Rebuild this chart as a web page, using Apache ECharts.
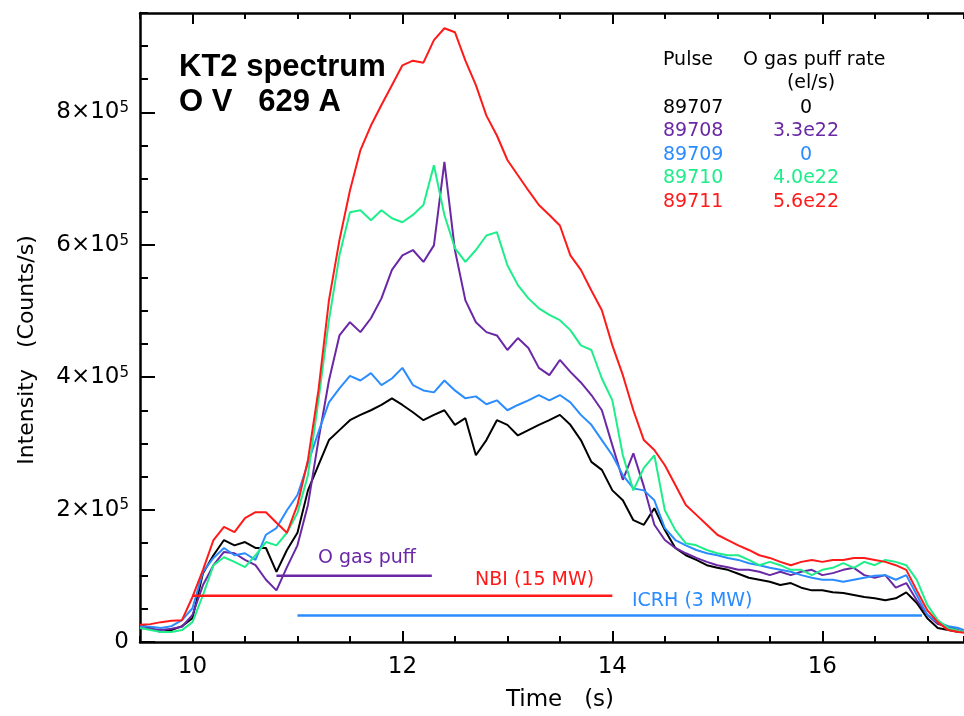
<!DOCTYPE html>
<html><head><meta charset="utf-8">
<script src="https://cdn.jsdelivr.net/npm/echarts@6/dist/echarts.min.js"></script>
<style>html,body{margin:0;padding:0;background:#fff}#c{width:964px;height:716px}</style>
</head><body><div id="c"></div>
<script>
// Time (s)
const time = [9.5,9.6,9.7,9.8,9.9,10.0,10.1,10.2,10.3,10.4,10.5,10.6,10.7,10.8,10.9,
  11.0,11.1,11.2,11.3,11.4,11.5,11.6,11.7,11.8,11.9,12.0,12.1,12.2,12.3,12.4,12.5,12.6,12.7,12.8,12.9,
  13.0,13.1,13.2,13.3,13.4,13.5,13.6,13.7,13.8,13.9,14.0,14.1,14.2,14.3,14.4,14.5,14.6,14.7,14.8,14.9,
  15.0,15.1,15.2,15.3,15.4,15.5,15.6,15.7,15.8,15.9,16.0,16.1,16.2,16.3,16.4,16.5,16.6,16.7,16.8,16.9,
  17.0,17.1,17.2,17.3,17.35];
// Intensity in units of 1e5 counts/s
const p89707 = [0.26,0.21,0.15,0.18,0.24,0.36,1.04,1.31,1.54,1.46,1.51,1.42,1.42,1.06,1.39,
  1.65,2.29,2.67,3.05,3.20,3.35,3.43,3.50,3.58,3.68,3.58,3.47,3.35,3.43,3.50,3.28,3.38,2.82,3.05,3.35,
  3.28,3.12,3.20,3.28,3.35,3.43,3.28,3.05,2.72,2.60,2.29,2.14,1.84,1.77,2.02,1.69,1.42,1.31,1.24,1.16,
  1.12,1.09,1.03,0.97,0.94,0.91,0.86,0.89,0.82,0.78,0.78,0.75,0.74,0.71,0.68,0.66,0.63,0.66,0.75,0.59,
  0.36,0.21,0.18,0.15,0.15];
const p89708 = [0.21,0.20,0.18,0.20,0.23,0.41,0.86,1.16,1.36,1.34,1.24,1.16,0.94,0.78,1.13,
  1.46,2.07,3.05,3.95,4.63,4.83,4.68,4.89,5.19,5.62,5.84,5.92,5.74,5.99,7.25,5.92,5.16,4.83,4.68,4.63,
  4.41,4.59,4.44,4.14,4.03,4.26,4.08,3.92,3.73,3.50,2.97,2.45,2.85,2.35,1.77,1.54,1.42,1.34,1.27,1.21,
  1.16,1.13,1.09,1.09,1.06,1.01,1.06,1.01,1.06,1.09,1.01,1.04,1.09,1.12,1.01,0.97,1.01,0.82,0.89,0.63,
  0.41,0.27,0.23,0.18,0.15];
const p89709 = [0.24,0.23,0.21,0.24,0.33,0.51,1.06,1.27,1.42,1.31,1.34,1.24,1.62,1.72,1.99,
  2.22,2.70,3.17,3.62,3.83,4.02,3.95,4.06,3.88,3.98,4.14,3.88,3.80,3.77,3.95,3.80,3.68,3.71,3.59,3.65,
  3.50,3.58,3.65,3.73,3.65,3.73,3.62,3.43,3.28,3.05,2.82,2.52,2.32,2.29,2.14,1.72,1.54,1.46,1.39,1.34,
  1.31,1.27,1.24,1.19,1.16,1.12,1.09,1.06,1.01,0.97,0.94,0.94,0.91,0.94,0.97,1.00,1.01,0.94,1.01,0.71,
  0.41,0.30,0.24,0.21,0.18];
const p89710 = [0.21,0.18,0.15,0.15,0.18,0.30,0.71,1.16,1.28,1.21,1.13,1.31,1.51,1.46,1.65,
  1.95,2.52,3.65,4.86,5.84,6.49,6.52,6.37,6.52,6.40,6.34,6.45,6.60,7.20,6.45,5.95,5.74,5.92,6.14,6.19,
  5.69,5.39,5.19,5.04,4.94,4.86,4.71,4.48,4.41,3.98,3.65,2.82,2.29,2.63,2.82,1.99,1.69,1.49,1.46,1.39,
  1.34,1.31,1.31,1.24,1.16,1.21,1.16,1.09,1.09,1.01,1.09,1.12,1.19,1.12,1.21,1.16,1.24,1.21,1.16,0.94,
  0.56,0.33,0.21,0.17,0.15];
const p89711 = [0.26,0.27,0.30,0.32,0.33,0.68,1.09,1.54,1.74,1.66,1.87,1.96,1.96,1.80,1.65,
  2.07,2.75,3.80,5.16,6.07,6.82,7.43,7.80,8.11,8.41,8.71,8.78,8.75,9.09,9.27,9.21,8.78,8.41,7.95,7.65,
  7.28,7.05,6.82,6.60,6.45,6.29,5.84,5.62,5.31,5.01,4.48,4.03,3.50,3.05,2.90,2.67,2.37,2.07,1.92,1.77,
  1.62,1.54,1.46,1.39,1.31,1.27,1.21,1.16,1.21,1.24,1.21,1.24,1.24,1.27,1.27,1.24,1.21,1.16,1.09,0.78,
  0.48,0.30,0.18,0.15,0.14];
const UNIT = 1e5;

const pulses = ['89707','89708','89709','89710','89711'];
const puffRates = ['0','3.3e22','0','4.0e22','5.6e22'];
const seriesValues = [p89707, p89708, p89709, p89710, p89711];

// Heating / puff timing bars: [start, end] in s, level in 1e5 counts/s
const gasPuffTimes = [10.8, 12.28]; const gasPuffLevel = 1.0;
const nbiTimes = [10.0, 14.0];      const nbiLevel = 0.7;
const icrhTimes = [11.0, 16.95];    const icrhLevel = 0.4;

const xLabelValues = [10, 12, 14, 16];
const yLabelValues = [0, 200000, 400000, 600000, 800000];

const colors = ['#000000', '#6a28a6', '#2a8cff', '#1eee8a', '#ff1a1a'];
const FONT = 'DejaVu Sans';

const chart = echarts.init(document.getElementById('c'), null, {renderer: 'canvas'});

const axisLine = {show: true, lineStyle: {color: '#000', width: 2.5}};
const tickStyle = {color: '#000', width: 2};
const X0 = 9.5, X1 = 17.35, Y0 = 0, Y1 = 950000;

function xAx(pos, major) {
  const a = {type: 'value', min: X0, max: X1, position: pos, splitLine: {show: false},
    axisLine: major ? axisLine : {show: false}};
  if (major) {
    a.axisTick = {show: true, inside: true, length: 11, customValues: xLabelValues, lineStyle: tickStyle};
    a.axisLabel = pos === 'bottom'
      ? {show: true, customValues: xLabelValues, fontSize: 23, fontFamily: FONT, color: '#000', margin: 14}
      : {show: false};
  } else {
    a.interval = 0.5;
    a.axisTick = {show: true, inside: true, length: 6, lineStyle: tickStyle};
    a.axisLabel = {show: false};
  }
  return a;
}

const series = seriesValues.map((vals, k) => ({
  type: 'line', name: pulses[k], xAxisIndex: 0, yAxisIndex: 0,
  data: time.map((t, i) => [t, vals[i] * UNIT]),
  showSymbol: false, symbol: 'none', smooth: false,
  lineStyle: {color: colors[k], width: 2}, z: 3 + k, animation: false
}));

function bar(times, level, color) {
  return {type: 'line', xAxisIndex: 0, yAxisIndex: 0,
    data: [[times[0], level * UNIT], [times[1], level * UNIT]],
    showSymbol: false, symbol: 'none', lineStyle: {color: color, width: 2.5}, z: 10, animation: false};
}
series.push(bar(gasPuffTimes, gasPuffLevel, colors[1]));
series.push(bar(nbiTimes, nbiLevel, colors[4]));
series.push(bar(icrhTimes, icrhLevel, colors[2]));

function txt(text, x, y, opts) {
  return Object.assign({type: 'text', x: x, y: y, z: 100,
    style: Object.assign({text: text, fill: '#000', fontSize: 19, fontFamily: FONT,
      align: 'left', verticalAlign: 'middle'}, opts || {})});
}

const rowY = [108, 131, 155, 178, 202];
const graphic = [
  txt('KT2 spectrum', 179, 67, {fontSize: 31, fontWeight: 'bold', fontFamily: 'Liberation Sans'}),
  txt('O V   629 A', 179, 102, {fontSize: 31, fontWeight: 'bold', fontFamily: 'Liberation Sans'}),
  txt('Pulse', 663, 60),
  txt('O gas puff rate', 743, 60),
  txt('(el/s)', 811, 83, {align: 'center'}),
  txt('O gas puff', 318, 558, {fill: colors[1]}),
  txt('NBI (15 MW)', 475, 580, {fill: colors[4]}),
  txt('ICRH (3 MW)', 632, 601, {fill: colors[2]}),
  txt('Time   (s)', 560, 700, {align: 'center', fontSize: 23}),
  {type: 'text', x: 27, y: 350, rotation: Math.PI / 2, z: 100,
   style: {text: 'Intensity   (Counts/s)', fill: '#000', fontSize: 22, fontFamily: FONT,
     align: 'center', verticalAlign: 'middle'}}
];
pulses.forEach((p, k) => {
  graphic.push(txt(p, 663, rowY[k], {fill: colors[k]}));
  graphic.push(txt(puffRates[k], 806, rowY[k], {fill: colors[k], align: 'center'}));
});

chart.setOption({
  animation: false,
  backgroundColor: '#fff',
  textStyle: {fontFamily: FONT},
  grid: {left: 140, right: 0, top: 13, bottom: 74, containLabel: false},
  xAxis: [xAx('bottom', true), xAx('bottom', false), xAx('top', true), xAx('top', false)],
  yAxis: [
    {type: 'value', min: Y0, max: Y1, position: 'left', splitLine: {show: false}, axisLine: axisLine,
     axisTick: {show: true, inside: true, length: 15, customValues: yLabelValues, lineStyle: tickStyle},
     axisLabel: {show: true, customValues: yLabelValues, margin: 11, color: '#000',
       formatter: v => v === 0 ? '{n|0}' : '{n|' + (v / UNIT) + '×10}{s|5}',
       rich: {n: {fontSize: 23, fontFamily: FONT, color: '#000'},
              s: {fontSize: 15, fontFamily: FONT, color: '#000', verticalAlign: 'top'}}}},
    {type: 'value', min: Y0, max: Y1, position: 'left', interval: 50000, splitLine: {show: false},
     axisLine: {show: false},
     axisTick: {show: true, inside: true, length: 8, lineStyle: tickStyle}, axisLabel: {show: false}}
  ],
  graphic: graphic,
  series: series
});
</script>
</body></html>
